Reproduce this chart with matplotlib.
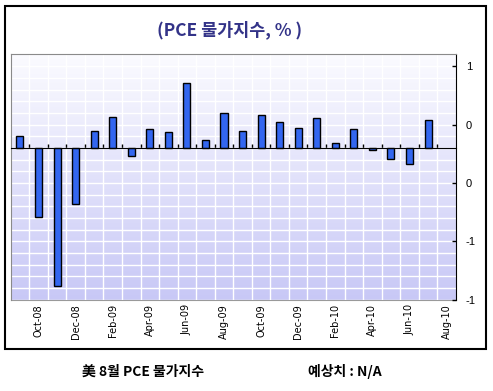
import numpy as np
import matplotlib.pyplot as plt
from matplotlib.patches import Rectangle
from matplotlib.colors import LinearSegmentedColormap

# monthly PCE price index change (%), Sep-08 .. Aug-10 (Aug-10 not yet released)
months = ['Sep-08', 'Oct-08', 'Nov-08', 'Dec-08', 'Jan-09', 'Feb-09', 'Mar-09', 'Apr-09',
          'May-09', 'Jun-09', 'Jul-09', 'Aug-09', 'Sep-09', 'Oct-09', 'Nov-09', 'Dec-09',
          'Jan-10', 'Feb-10', 'Mar-10', 'Apr-10', 'May-10', 'Jun-10', 'Jul-10', 'Aug-10']
pce = [0.10, -0.59, -1.18, -0.48, 0.15, 0.27, -0.065, 0.16,
       0.14, 0.56, 0.07, 0.30, 0.15, 0.28, 0.22, 0.17,
       0.26, 0.04, 0.16, -0.02, -0.09, -0.14, 0.24, np.nan]

# the original axis has odd rounded labels
y_ticks = [-1.3, -0.8, -0.3, 0.2, 0.7]
y_labels = ['-1', '-1', '0', '0', '1']

title = '(PCE 물가지수, % )'
note_left = '美 8월 PCE 물가지수'
note_right = '예상치 : N/A'

kr = ['Noto Sans CJK KR', 'DejaVu Sans']

fig = plt.figure(figsize=(4.93, 3.91), dpi=100)
ax = fig.add_axes([0.0217, 0.2327, 0.903, 0.629])

# gradient plot background
bg = LinearSegmentedColormap.from_list('bg', ['#fbfbff', '#c8c8f6'])
ax.imshow(np.linspace(0, 1, 256).reshape(-1, 1), extent=[0, 1, 0, 1],
          transform=ax.transAxes, aspect='auto', cmap=bg, zorder=0)

x = np.arange(len(months))
ax.bar(x, pce, width=0.38, color='#3366f0', edgecolor='black', linewidth=1, zorder=2)

ax.set_xlim(-0.5, len(months) - 0.5)
ax.set_ylim(-1.304, 0.806)

# baseline at zero with small ticks between categories
ax.spines['bottom'].set_position(('data', 0))
ax.spines['bottom'].set_color('black')
ax.spines['bottom'].set_zorder(3)
ax.set_xticks(x[:-1] + 0.5)
ax.tick_params(axis='x', direction='in', length=3, width=1, labelbottom=False)

# month labels along the bottom
sec = ax.secondary_xaxis('bottom')
sec.set_xticks(x[1::2])
sec.set_xticklabels(months[1::2], rotation=90, fontsize=7, fontfamily='DejaVu Sans')
sec.tick_params(length=0, pad=3)
sec.spines['bottom'].set_color('#9a9a9a')

# value axis on the right
ax.yaxis.tick_right()
ax.set_yticks(y_ticks)
ax.set_yticklabels(y_labels, fontsize=8, fontfamily='Liberation Sans')
ax.set_yticks(np.arange(-1.3, 0.8, 0.1), minor=True)
ax.tick_params(axis='y', which='major', direction='in', length=3, width=1, pad=7)
ax.tick_params(axis='y', which='minor', length=0)

ax.set_axisbelow(True)
ax.grid(True, axis='x', color='white', linewidth=1)
ax.grid(True, axis='y', which='both', color='white', linewidth=1)

for side in ['left', 'top']:
    ax.spines[side].set_color('#8a8a8a')
ax.spines['right'].set_color('black')

fig.text(0.465, 0.923, title, ha='center', va='center', fontsize=12.5,
         fontweight='bold', color='#333388', family=kr)
fig.text(0.291, 0.049, note_left, ha='center', va='center', fontsize=10,
         fontweight='bold', family=kr)
fig.text(0.699, 0.049, note_right, ha='center', va='center', fontsize=10,
         fontweight='bold', family=kr)

# outer chart border
fig.add_artist(Rectangle((5 / 493, 1 - 349 / 391), 481 / 493, 343 / 391,
                         transform=fig.transFigure, fill=False, edgecolor='black',
                         linewidth=1.5))

plt.savefig('out.png', dpi=100)
